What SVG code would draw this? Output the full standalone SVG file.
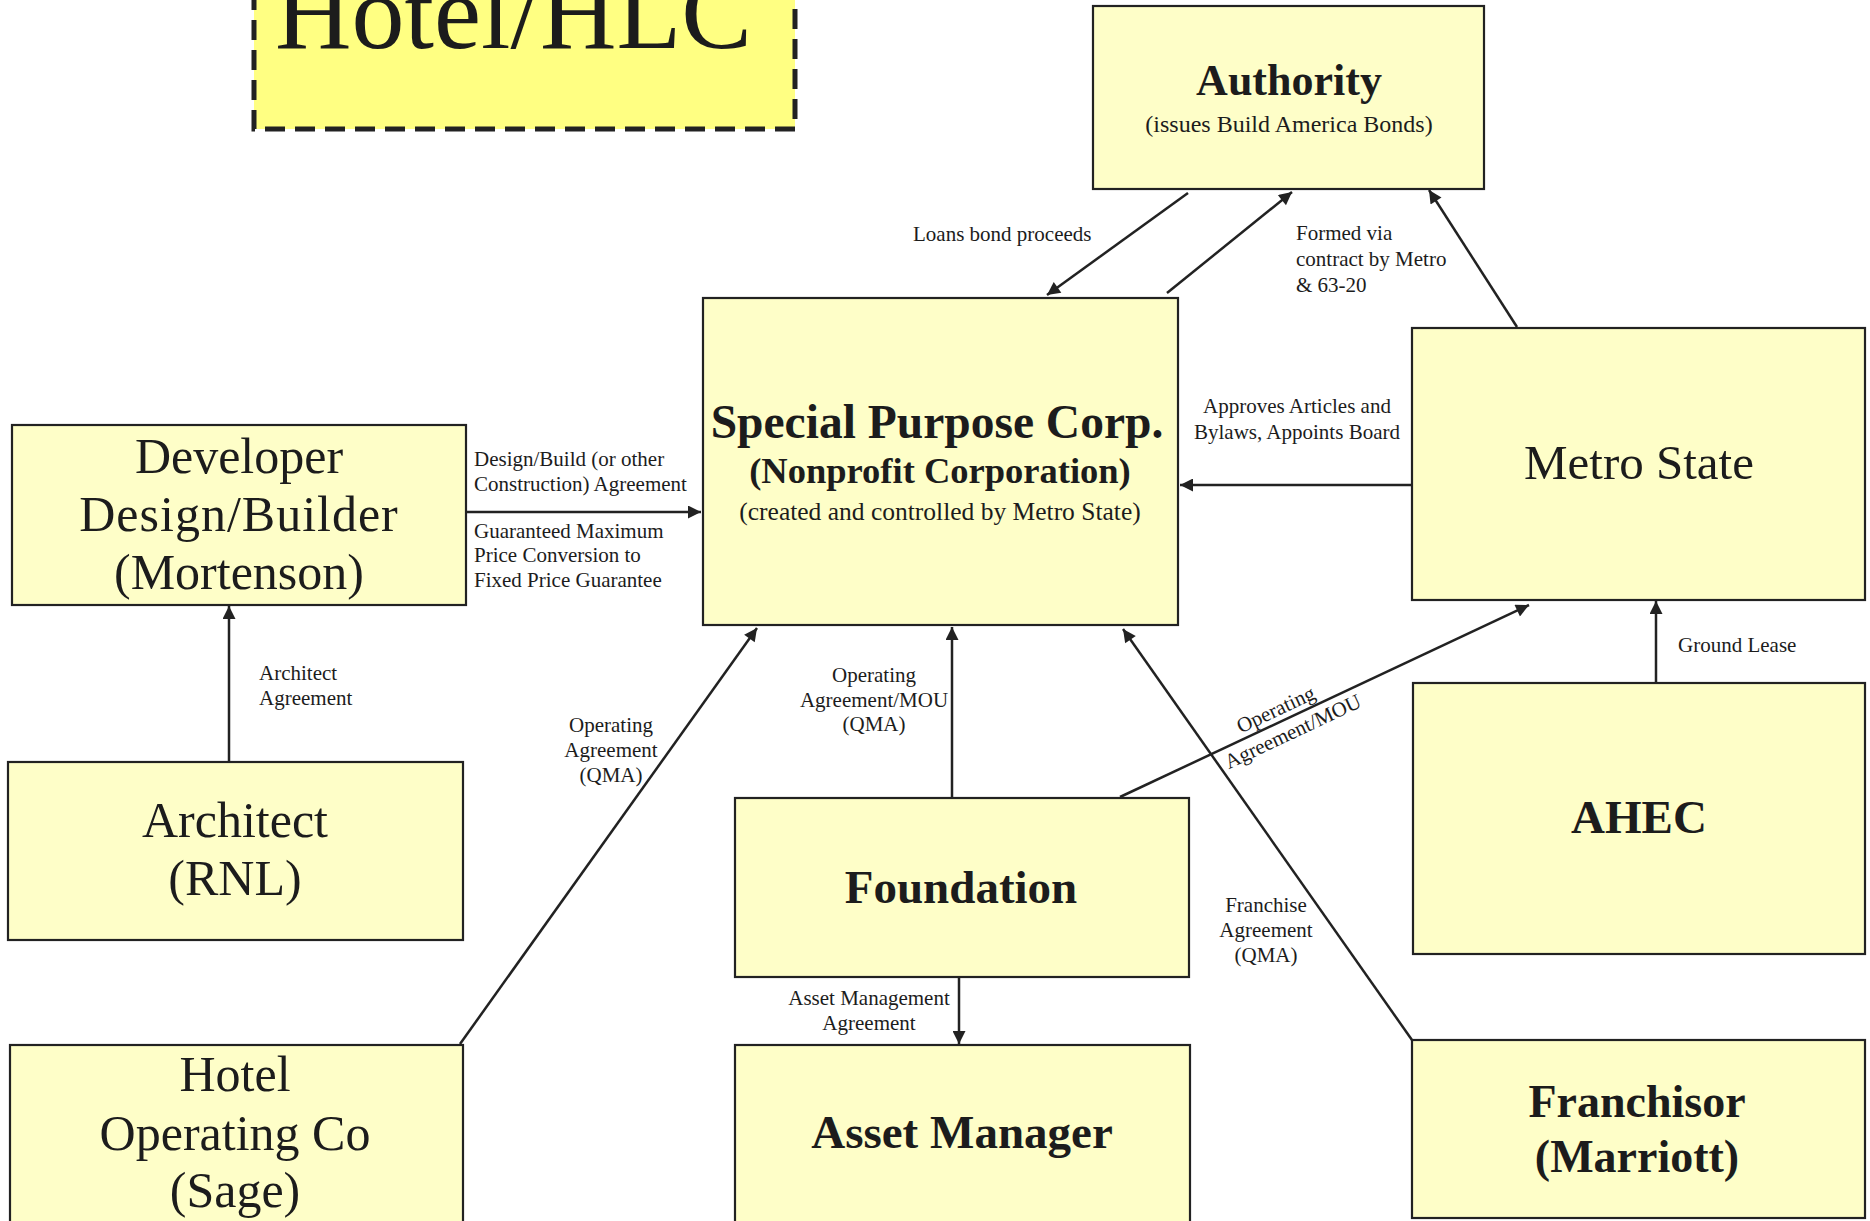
<svg xmlns="http://www.w3.org/2000/svg" width="1870" height="1221" viewBox="0 0 1870 1221">
  <style>
    .box { fill: #fefec8; stroke: #222; stroke-width: 2.2; }
    .title-box { fill: #ffff82; stroke: #222; stroke-width: 5; stroke-dasharray: 20 10; }
    .name { font-family: "Liberation Serif", "Times New Roman", serif; fill: #1c1c1c; text-anchor: middle; }
    .bold { font-weight: bold; }
    .lbl { font-family: "Liberation Serif", "Times New Roman", serif; font-size: 21px; fill: #1c1c1c; }
    .mid { text-anchor: middle; }
    .conn line { stroke: #222; stroke-width: 2.5; marker-end: url(#head); }
  </style>
  <defs>
    <marker id="head" viewBox="0 0 10 10" refX="10" refY="5" markerWidth="18" markerHeight="13" markerUnits="userSpaceOnUse" orient="auto">
      <path d="M0,0 L10,5 L0,10 z" fill="#222"/>
    </marker>
  </defs>

  <rect width="1870" height="1221" fill="#ffffff"/>

  <!-- title -->
  <g id="title">
    <rect class="title-box" x="254" y="-20" width="541" height="149"/>
    <text class="name" x="275" y="48" font-size="106" style="text-anchor:start">Hotel/HLC</text>
  </g>

  <!-- entities -->
  <g id="authority">
    <rect class="box" x="1093" y="6" width="391" height="183"/>
    <text class="name bold" x="1289" y="95" font-size="44">Authority</text>
    <text class="name" x="1289" y="132" font-size="24">(issues Build America Bonds)</text>
  </g>

  <g id="spc">
    <rect class="box" x="703" y="298" width="475" height="327"/>
    <text class="name bold" x="937" y="438" font-size="47.5">Special Purpose Corp.</text>
    <text class="name bold" x="940" y="483" font-size="36.5">(Nonprofit Corporation)</text>
    <text class="name" x="940" y="520" font-size="25.5">(created and controlled by Metro State)</text>
  </g>

  <g id="developer">
    <rect class="box" x="12" y="425" width="454" height="180"/>
    <text class="name" x="239" y="473" font-size="50">Developer</text>
    <text class="name" x="239" y="531" font-size="50" letter-spacing="1">Design/Builder</text>
    <text class="name" x="239" y="589" font-size="50">(Mortenson)</text>
  </g>

  <g id="metro-state">
    <rect class="box" x="1412" y="328" width="453" height="272"/>
    <text class="name" x="1639" y="479" font-size="49">Metro State</text>
  </g>

  <g id="architect">
    <rect class="box" x="8" y="762" width="455" height="178"/>
    <text class="name" x="235" y="837" font-size="50">Architect</text>
    <text class="name" x="235" y="895" font-size="50">(RNL)</text>
  </g>

  <g id="foundation">
    <rect class="box" x="735" y="798" width="454" height="179"/>
    <text class="name bold" x="961" y="903" font-size="47">Foundation</text>
  </g>

  <g id="ahec">
    <rect class="box" x="1413" y="683" width="452" height="271"/>
    <text class="name bold" x="1639" y="833" font-size="47">AHEC</text>
  </g>

  <g id="hotel-operating-co">
    <rect class="box" x="10" y="1045" width="453" height="200"/>
    <text class="name" x="235" y="1091" font-size="50">Hotel</text>
    <text class="name" x="235" y="1150" font-size="50">Operating Co</text>
    <text class="name" x="235" y="1207" font-size="50">(Sage)</text>
  </g>

  <g id="asset-manager">
    <rect class="box" x="735" y="1045" width="455" height="200"/>
    <text class="name bold" x="962" y="1148" font-size="47">Asset Manager</text>
  </g>

  <g id="franchisor">
    <rect class="box" x="1412" y="1040" width="453" height="178"/>
    <text class="name bold" x="1637" y="1117" font-size="46">Franchisor</text>
    <text class="name bold" x="1637" y="1172" font-size="46">(Marriott)</text>
  </g>

  <!-- connectors and their labels -->
  <g id="connectors" class="conn">
    <line x1="1188" y1="193" x2="1047" y2="295"/>
    <line x1="1167" y1="293" x2="1292" y2="192"/>
    <line x1="1517" y1="327" x2="1429" y2="190"/>
    <line x1="1412" y1="485" x2="1180" y2="485"/>
    <line x1="466" y1="512" x2="701" y2="512"/>
    <line x1="229" y1="761" x2="229" y2="606"/>
    <line x1="460" y1="1044" x2="757" y2="628"/>
    <line x1="952" y1="797" x2="952" y2="627"/>
    <line x1="1120" y1="797" x2="1529" y2="605"/>
    <line x1="1412" y1="1040" x2="1123" y2="629"/>
    <line x1="959" y1="977" x2="959" y2="1044"/>
    <line x1="1656" y1="683" x2="1656" y2="601"/>

    <text class="lbl" x="913" y="241">Loans bond proceeds</text>

    <text class="lbl" x="1296" y="240">Formed via</text>
    <text class="lbl" x="1296" y="266">contract by Metro</text>
    <text class="lbl" x="1296" y="292">&amp; 63-20</text>

    <text class="lbl mid" x="1297" y="413">Approves Articles and</text>
    <text class="lbl mid" x="1297" y="439">Bylaws, Appoints Board</text>

    <text class="lbl" x="474" y="466">Design/Build (or other</text>
    <text class="lbl" x="474" y="491">Construction) Agreement</text>
    <text class="lbl" x="474" y="538">Guaranteed Maximum</text>
    <text class="lbl" x="474" y="562">Price Conversion to</text>
    <text class="lbl" x="474" y="587">Fixed Price Guarantee</text>

    <text class="lbl" x="259" y="680">Architect</text>
    <text class="lbl" x="259" y="705">Agreement</text>

    <text class="lbl mid" x="611" y="732">Operating</text>
    <text class="lbl mid" x="611" y="757">Agreement</text>
    <text class="lbl mid" x="611" y="782">(QMA)</text>

    <text class="lbl mid" x="874" y="682">Operating</text>
    <text class="lbl mid" x="874" y="707">Agreement/MOU</text>
    <text class="lbl mid" x="874" y="731">(QMA)</text>

    <g transform="translate(1285 719.5) rotate(-25.15)">
      <text class="lbl mid" x="-4" y="-6">Operating</text>
      <text class="lbl mid" x="2" y="21">Agreement/MOU</text>
    </g>

    <text class="lbl mid" x="1266" y="912">Franchise</text>
    <text class="lbl mid" x="1266" y="937">Agreement</text>
    <text class="lbl mid" x="1266" y="962">(QMA)</text>

    <text class="lbl mid" x="869" y="1005" font-size="20">Asset Management</text>
    <text class="lbl mid" x="869" y="1030" font-size="20">Agreement</text>

    <text class="lbl" x="1678" y="652">Ground Lease</text>
  </g>
</svg>
